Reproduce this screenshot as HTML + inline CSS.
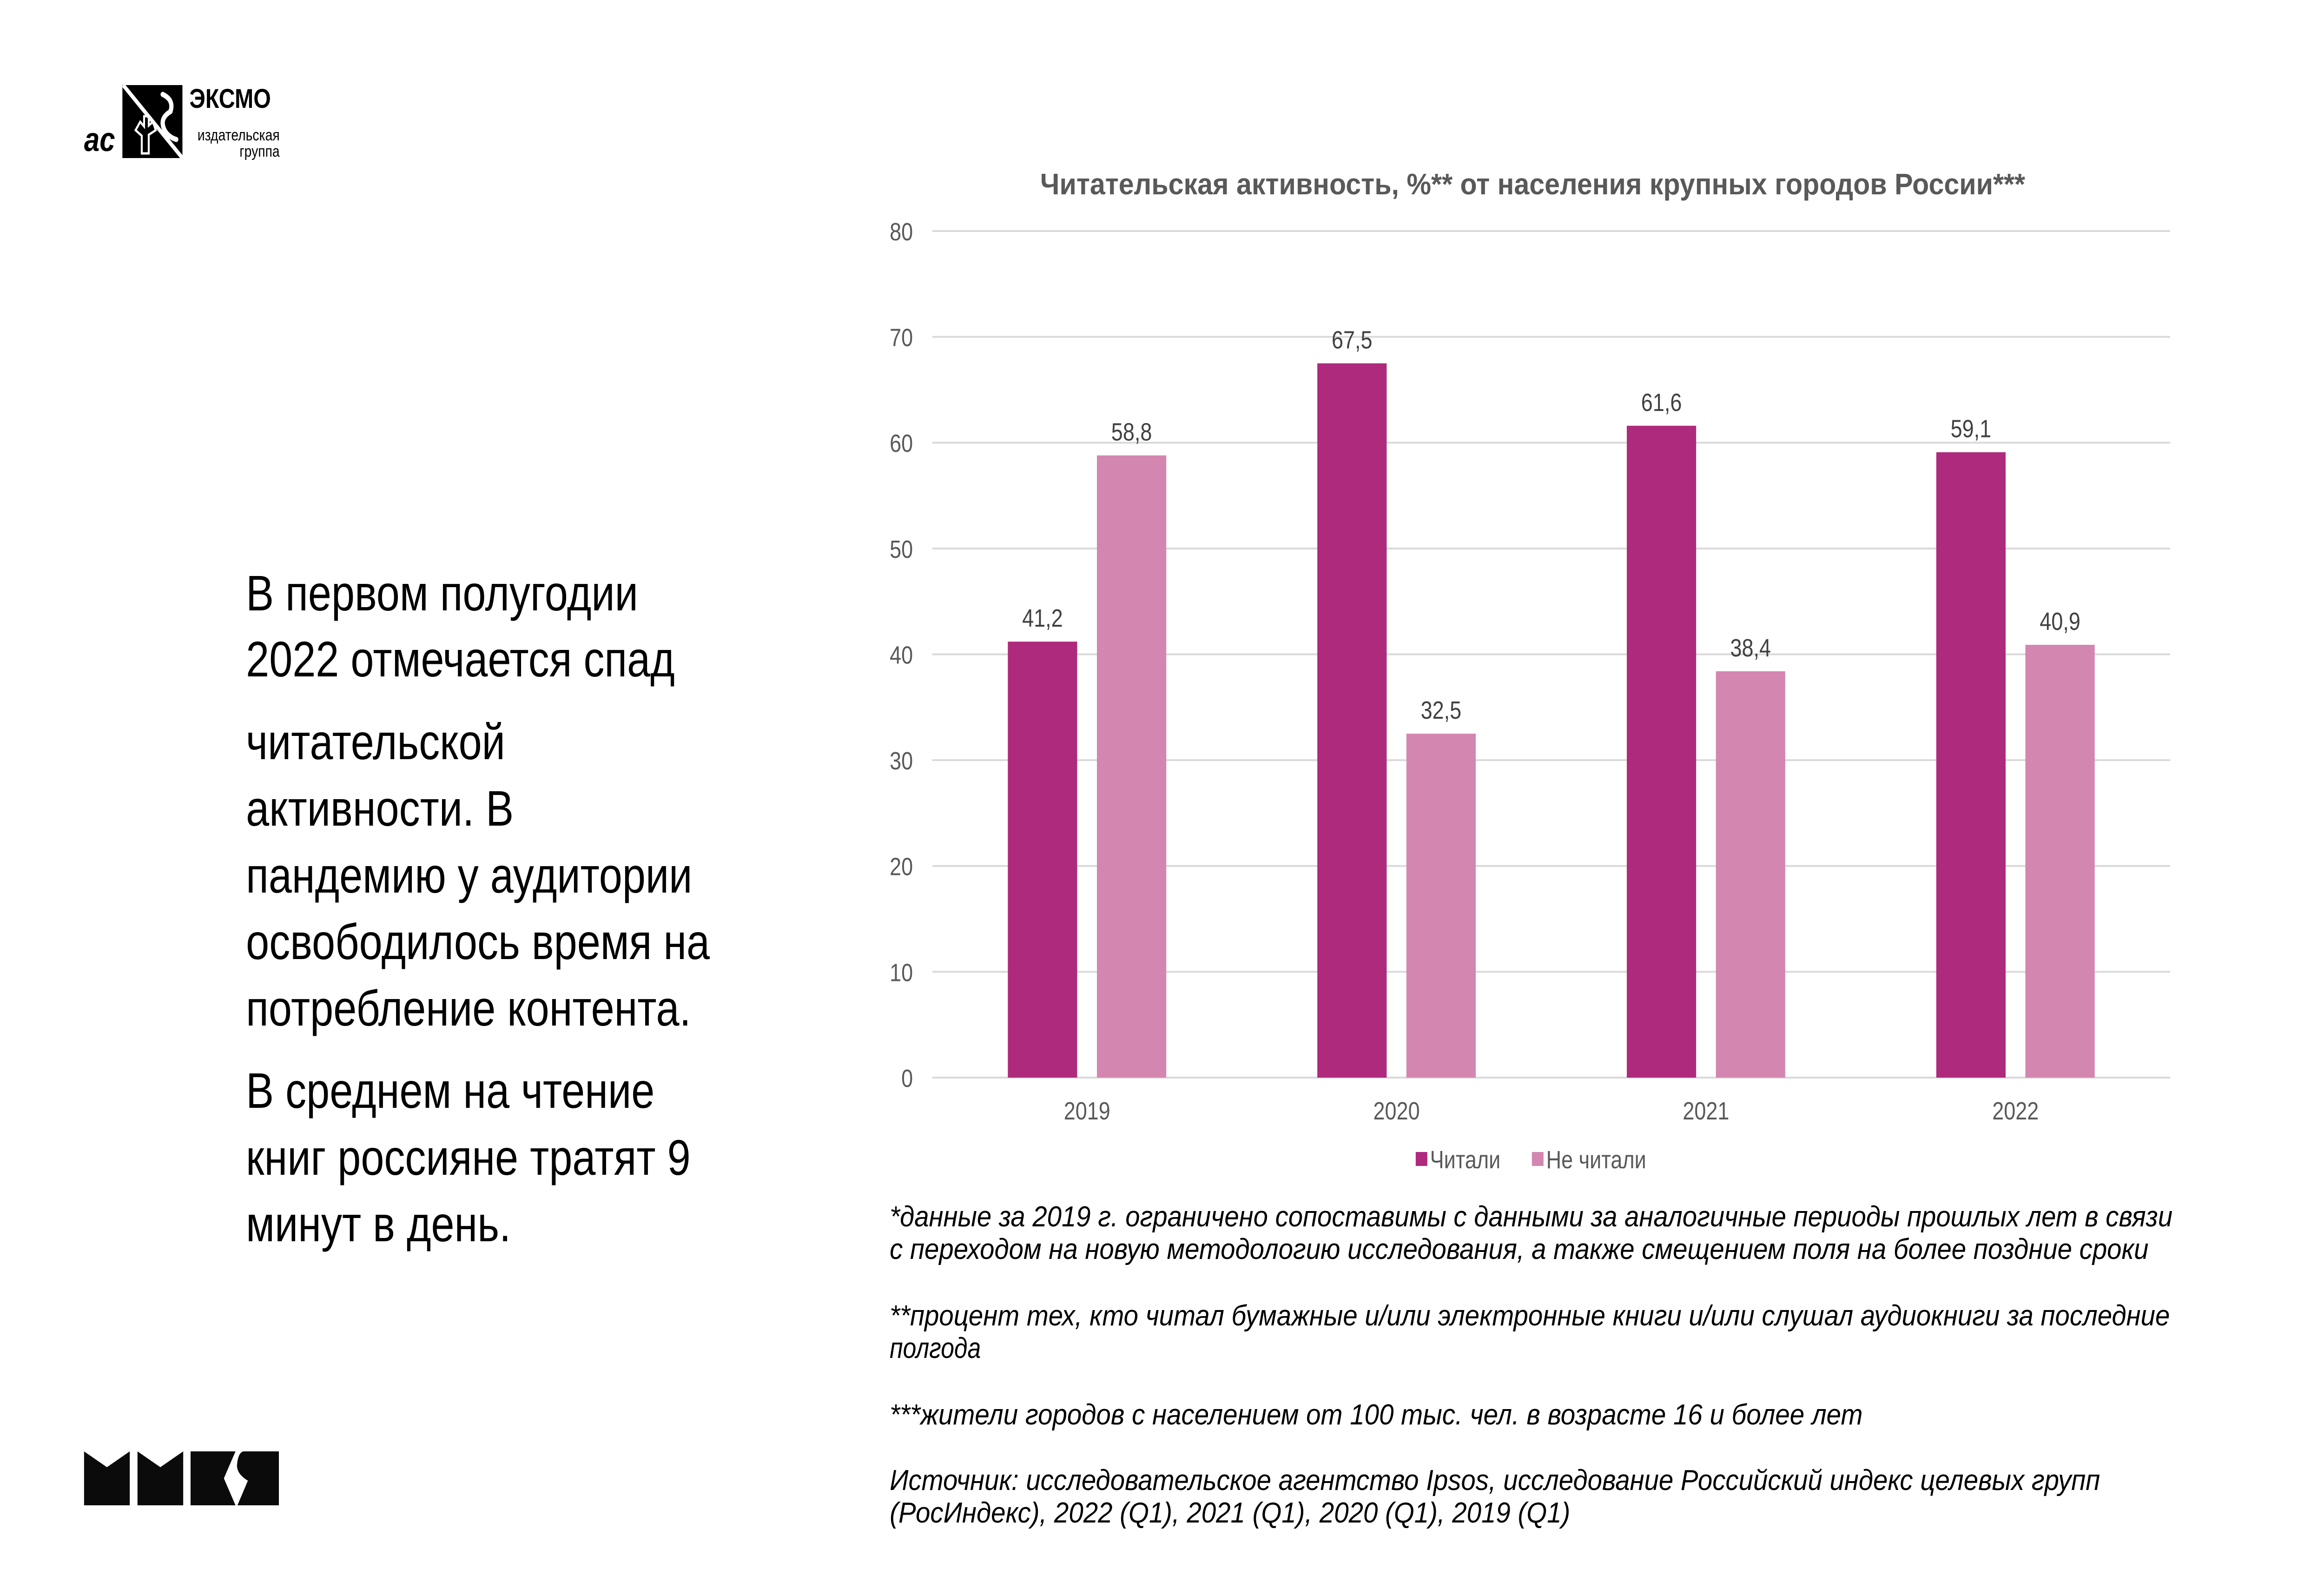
<!DOCTYPE html>
<html><head><meta charset="utf-8"><style>
html,body{margin:0;padding:0;background:#fff;width:100%;height:100%;overflow:hidden;}
svg{display:block;width:100vw;height:100vh;}
</style></head><body>
<svg id="page" viewBox="0 0 6000 3375" preserveAspectRatio="none" xmlns="http://www.w3.org/2000/svg" font-family="'Liberation Sans', sans-serif">
<g>
  <text x="217" y="325" font-size="72" font-weight="bold" font-style="italic" fill="#000">ac</text>
  <rect x="316" y="183" width="155" height="157" fill="#000"/>
  <line x1="318" y1="183" x2="471" y2="340" stroke="#fff" stroke-width="9"/>
  <path d="M420 203 Q450 215 440 240 Q410 255 425 280 Q435 295 455 300" stroke="#fff" stroke-width="11" fill="none" stroke-linecap="round"/>
  <path d="M350 280 L362 262 L372 272 L372 250 L384 250 L384 270 L395 262 L402 280 L384 290 L384 330 L366 330 L366 292 Z" stroke="#fff" stroke-width="5" fill="none"/>
  <text x="489" y="232" font-size="58" font-weight="bold" fill="#000">ЭКСМО</text>
  <text x="722" y="302" font-size="34" text-anchor="end" fill="#000">издательская</text>
  <text x="722" y="337" font-size="34" text-anchor="end" fill="#000">группа</text>
</g>
<g fill="#0b0b0c">
  <polygon points="217,3122 276,3156 335,3122 335,3238 217,3238"/>
  <polygon points="355,3122 414,3156 473,3122 473,3238 355,3238"/>
  <polygon points="492,3122 608,3122 578,3180 608,3238 492,3238"/>
  <path d="M628,3122 L720,3122 L720,3238 L613,3238 L640,3185 Q610,3170 612,3150 Q615,3125 628,3122 Z"/>
</g>
<g font-size="108" fill="#000">
  <text x="635" y="1313">В первом полугодии</text>
  <text x="635" y="1455">2022 отмечается спад</text>
  <text x="635" y="1633">читательской</text>
  <text x="635" y="1776">активности. В</text>
  <text x="635" y="1920">пандемию у аудитории</text>
  <text x="635" y="2063">освободилось время на</text>
  <text x="635" y="2206">потребление контента.</text>
  <text x="635" y="2383">В среднем на чтение</text>
  <text x="635" y="2527">книг россияне тратят 9</text>
  <text x="635" y="2670">минут в день.</text>
</g>
<g id="chart"></g>
<g font-size="62" font-style="italic" fill="#000">
  <text x="2297" y="2638" textLength="3312" lengthAdjust="spacingAndGlyphs">*данные за 2019 г. ограничено сопоставимы с данными за аналогичные периоды прошлых лет в связи</text>
  <text x="2297" y="2708" textLength="3250" lengthAdjust="spacingAndGlyphs">с переходом на новую методологию исследования, а также смещением поля на более поздние сроки</text>
  <text x="2297" y="2851" textLength="3305" lengthAdjust="spacingAndGlyphs">**процент тех, кто читал бумажные и/или электронные книги и/или слушал аудиокниги за последние</text>
  <text x="2297" y="2921">полгода</text>
  <text x="2297" y="3064" textLength="2512" lengthAdjust="spacingAndGlyphs">***жители городов с населением от 100 тыс. чел. в возрасте 16 и более лет</text>
  <text x="2297" y="3205" textLength="3125" lengthAdjust="spacingAndGlyphs">Источник: исследовательское агентство Ipsos, исследование Российский индекс целевых групп</text>
  <text x="2297" y="3275" textLength="1757" lengthAdjust="spacingAndGlyphs">(РосИндекс), 2022 (Q1), 2021 (Q1), 2020 (Q1), 2019 (Q1)</text>
</g>
</svg>
<script>
const categories = ["2019", "2020", "2021", "2022"];
const readValues = [41.2, 67.5, 61.6, 59.1];
const notReadValues = [58.8, 32.5, 38.4, 40.9];
const yTicks = [0, 10, 20, 30, 40, 50, 60, 70, 80];
const seriesNames = ["Читали", "Не читали"];

const NS = "http://www.w3.org/2000/svg";
const g = document.getElementById('chart');
const X0 = 2407, X1 = 5603, Y0 = 2318, Y1 = 497, YMAX = 80;
const band = (X1 - X0) / categories.length;
const yScale = v => Y0 - (v / YMAX) * (Y0 - Y1);
const xCenter = i => X0 + band * (i + 0.5);
const BW = 179, GAP = 51;
const colors = ["#ae2a7c", "#d386b0"];
function mk(tag, attrs, text) {
  const e = document.createElementNS(NS, tag);
  for (const k in attrs) e.setAttribute(k, attrs[k]);
  if (text !== undefined) e.textContent = text;
  g.appendChild(e);
  return e;
}
const title = mk('text', {x: 3957, y: 418, 'font-size': 64, 'font-weight': 'bold', fill: '#595959', 'text-anchor': 'middle', textLength: 2543, lengthAdjust: 'spacingAndGlyphs'}, "Читательская активность, %** от населения крупных городов России***");


yTicks.forEach(t => {
  const y = yScale(t);
  const l = mk('line', {x1: X0, x2: X1, y1: y, y2: y, stroke: '#d9d9d9', 'stroke-width': 4});
  
  
  const tx = mk('text', {x: 2357, y: y + 20, 'font-size': 54, fill: '#595959', 'text-anchor': 'end'}, String(t));
  
  
});
const series = [readValues, notReadValues];
categories.forEach((c, i) => {
  const cx = xCenter(i);
  series.forEach((vals, s) => {
    const v = vals[i];
    const x = s === 0 ? cx - GAP / 2 - BW : cx + GAP / 2;
    const y = yScale(v);
    const r = mk('rect', {x: x, y: y, width: BW, height: Y0 - y, fill: colors[s]});
    
    
    const lb = mk('text', {x: x + BW / 2, y: y - 32, 'font-size': 54, fill: '#404040', 'text-anchor': 'middle'}, v.toFixed(1).replace('.', ','));
    
    
  });
  const ct = mk('text', {x: cx, y: 2408, 'font-size': 54, fill: '#595959', 'text-anchor': 'middle'}, c);
  
  
});
const lx = [3655, 3955];
seriesNames.forEach((n, s) => {
  const sw = mk('rect', {x: lx[s], y: 2478, width: 30, height: 30, fill: colors[s]});
  
  
  const t = mk('text', {x: lx[s] + 37, y: 2513, 'font-size': 54, fill: '#595959'}, n);
  
  
});
</script>
</body></html>
